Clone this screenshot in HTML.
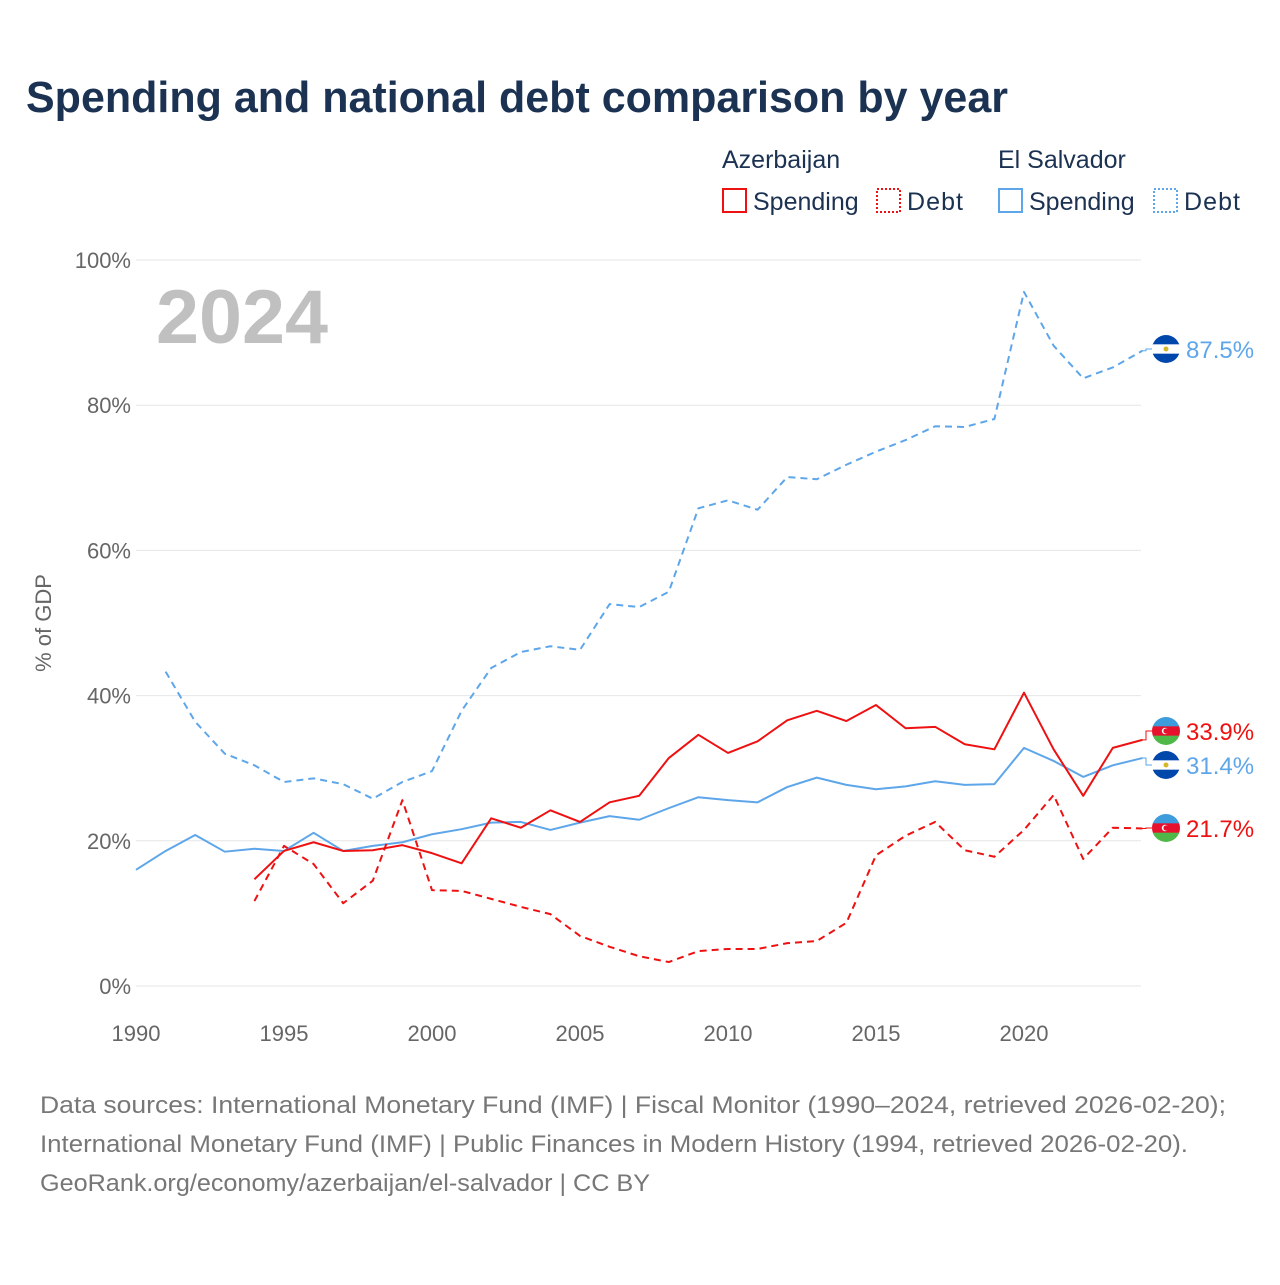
<!DOCTYPE html>
<html><head><meta charset="utf-8">
<style>
body{margin:0;background:#fff;font-family:"Liberation Sans",sans-serif;}
svg text{font-family:"Liberation Sans",sans-serif;}
</style></head>
<body>
<svg width="1280" height="1280" viewBox="0 0 1280 1280" xmlns="http://www.w3.org/2000/svg">
<text x="26" y="112" font-size="44" font-weight="bold" fill="#1b3252" textLength="982" lengthAdjust="spacingAndGlyphs">Spending and national debt comparison by year</text>
<g font-size="25" fill="#1b3252">
<text x="722" y="168">Azerbaijan</text>
<text x="998" y="168">El Salvador</text>
<g><rect x="723" y="189" width="23" height="23" fill="none" stroke="#ee1111" stroke-width="2"/><text x="753" y="210">Spending</text></g>
<g><rect x="877" y="189" width="23" height="23" fill="none" stroke="#ee1111" stroke-width="2" stroke-dasharray="2,2"/><text x="907" y="210" textLength="56">Debt</text></g>
<g><rect x="999" y="189" width="23" height="23" fill="none" stroke="#5ea6ea" stroke-width="2"/><text x="1029" y="210">Spending</text></g>
<g><rect x="1154" y="189" width="23" height="23" fill="none" stroke="#5ea6ea" stroke-width="2" stroke-dasharray="2,2"/><text x="1184" y="210" textLength="56">Debt</text></g>
</g>
<g id="grid"></g>
<text x="156" y="343" font-size="76" font-weight="bold" fill="#c0c0c0" textLength="172" lengthAdjust="spacingAndGlyphs">2024</text>
<text transform="translate(51,623) rotate(-90)" text-anchor="middle" font-size="22" fill="#666">% of GDP</text>
<g id="series"></g>
<g id="ends"></g>
<g font-size="24" fill="#777">
<text x="40" y="1113" textLength="1186" lengthAdjust="spacingAndGlyphs">Data sources: International Monetary Fund (IMF) | Fiscal Monitor (1990–2024, retrieved 2026-02-20);</text>
<text x="40" y="1152" textLength="1148" lengthAdjust="spacingAndGlyphs">International Monetary Fund (IMF) | Public Finances in Modern History (1994, retrieved 2026-02-20).</text>
<text x="40" y="1191" textLength="610" lengthAdjust="spacingAndGlyphs">GeoRank.org/economy/azerbaijan/el-salvador | CC BY</text>
</g>
</svg>
<script>
const yTicks=[0,20,40,60,80,100];
const xTicks=[1990,1995,2000,2005,2010,2015,2020];
const svYears=[1990,1991,1992,1993,1994,1995,1996,1997,1998,1999,2000,2001,2002,2003,2004,2005,2006,2007,2008,2009,2010,2011,2012,2013,2014,2015,2016,2017,2018,2019,2020,2021,2022,2023,2024];
const svSpending=[16.0,18.6,20.8,18.5,18.9,18.6,21.1,18.6,19.3,19.8,20.9,21.6,22.5,22.6,21.5,22.5,23.4,22.9,24.5,26.0,25.6,25.3,27.4,28.7,27.7,27.1,27.5,28.2,27.7,27.8,32.8,31.0,28.8,30.4,31.4];
const svDebtYears=[1991,1992,1993,1994,1995,1996,1997,1998,1999,2000,2001,2002,2003,2004,2005,2006,2007,2008,2009,2010,2011,2012,2013,2014,2015,2016,2017,2018,2019,2020,2021,2022,2023,2024];
const svDebt=[43.3,36.4,32.0,30.4,28.1,28.6,27.8,25.8,28.1,29.6,37.9,43.8,46.0,46.8,46.3,52.6,52.2,54.3,65.8,66.9,65.6,70.1,69.8,71.8,73.6,75.2,77.1,77.0,78.1,95.6,88.2,83.7,85.2,87.5];
const azYears=[1994,1995,1996,1997,1998,1999,2000,2001,2002,2003,2004,2005,2006,2007,2008,2009,2010,2011,2012,2013,2014,2015,2016,2017,2018,2019,2020,2021,2022,2023,2024];
const azSpending=[14.7,18.6,19.8,18.6,18.7,19.4,18.3,16.9,23.1,21.8,24.2,22.6,25.3,26.2,31.4,34.6,32.1,33.7,36.6,37.9,36.5,38.7,35.5,35.7,33.3,32.6,40.4,32.6,26.2,32.8,33.9];
const azDebt=[11.7,19.3,16.8,11.4,14.5,25.6,13.2,13.1,12.0,10.9,9.9,6.9,5.4,4.1,3.3,4.8,5.1,5.1,5.9,6.2,8.7,18.0,20.7,22.6,18.7,17.8,21.5,26.3,17.5,21.8,21.7];

const NS="http://www.w3.org/2000/svg";
const X=y=>136+(y-1990)*(1024-136)/30;
const Y=v=>986-v*7.26;
function mk(t,a,p){const e=document.createElementNS(NS,t);for(const k in a)e.setAttribute(k,a[k]);p.appendChild(e);return e;}
const grid=document.getElementById('grid');
yTicks.forEach(v=>{
  const l=mk('line',{x1:136,x2:1141,y1:Y(v),y2:Y(v),stroke:'#e6e6e6','stroke-width':1},grid);
  
  
  const t=mk('text',{x:131,y:Y(v)+8,'text-anchor':'end','font-size':22,fill:'#666'},grid);t.textContent=v+'%';
  
  
});
xTicks.forEach(v=>{
  const t=mk('text',{x:X(v),y:1041,'text-anchor':'middle','font-size':22,fill:'#666'},grid);t.textContent=v;
  
  
});
const S=document.getElementById('series');
function line(xs,vs,col,dash,name){
  const p=mk('polyline',{points:xs.map((x,i)=>X(x)+','+Y(vs[i])).join(' '),fill:'none',stroke:col,'stroke-width':2,'stroke-dasharray':dash||'none','stroke-linejoin':'round'},S);
  
  
}
line(svDebtYears,svDebt,'#5ea6ea','7,5','line-el-salvador-debt');
line(svYears,svSpending,'#5ea6ea','','line-el-salvador-spending');
line(azYears,azDebt,'#ee1111','7,5','line-azerbaijan-debt');
line(azYears,azSpending,'#ee1111','','line-azerbaijan-spending');
const E=document.getElementById('ends');
function flag(cy,country){
  const g=mk('g',{},E);
  
  
  const cx=1166,r=14;
  mk('clipPath',{id:'c'+cy},g).appendChild(document.createElementNS(NS,'circle'));
  const c=g.querySelector('clipPath circle');c.setAttribute('cx',cx);c.setAttribute('cy',cy);c.setAttribute('r',r);
  const h=2*r/3;
  const cols=country==='azerbaijan'?['#3f9cdc','#e8112d','#50b848']:['#0047ab','#fff','#0047ab'];
  cols.forEach((cl,i)=>mk('rect',{x:cx-r,y:cy-r+i*h,width:2*r,height:h+0.5,fill:cl,'clip-path':'url(#c'+cy+')'},g));
  if(country==='azerbaijan'){mk('circle',{cx:cx-1,cy:cy,r:3.2,fill:'#fff'},g);mk('circle',{cx:cx,cy:cy,r:2.6,fill:'#e8112d'},g);}
  else mk('circle',{cx:cx,cy:cy,r:2.5,fill:'#d4b82a'},g);
}
function label(v,labelY,col,country,name){
  const ly=Y(v);
  const c=mk('polyline',{points:`1141,${ly} 1146,${ly} 1146,${labelY} 1152,${labelY}`,fill:'none',stroke:col,'stroke-width':1},E);
  
  
  flag(labelY,country);
  const t=mk('text',{x:1186,y:labelY+9,'font-size':24,fill:col},E);t.textContent=v.toFixed(1)+'%';
  
  
}
label(svDebt[svDebt.length-1],349,'#5ea6ea','el-salvador','el-salvador-debt');
label(azSpending[azSpending.length-1],731,'#ee1111','azerbaijan','azerbaijan-spending');
label(svSpending[svSpending.length-1],765,'#5ea6ea','el-salvador','el-salvador-spending');
label(azDebt[azDebt.length-1],828,'#ee1111','azerbaijan','azerbaijan-debt');
</script>
</body></html>
